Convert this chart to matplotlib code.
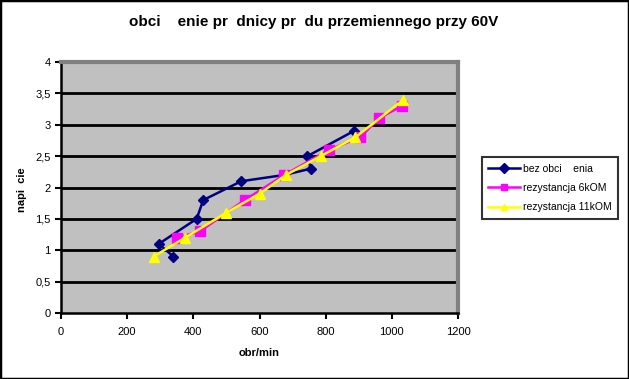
import matplotlib.pyplot as plt
from matplotlib.patches import Rectangle

# bez obciazenia
blue_x = [340, 295, 410, 430, 545, 675, 755, 745, 885]
blue_y = [0.9, 1.1, 1.5, 1.8, 2.1, 2.2, 2.3, 2.5, 2.9]
# rezystancja 6kOM
pink_x = [350, 420, 555, 675, 810, 905, 960, 1030]
pink_y = [1.2, 1.3, 1.8, 2.2, 2.6, 2.8, 3.1, 3.3]
# rezystancja 11kOM
yel_x = [280, 375, 500, 600, 680, 785, 890, 1035]
yel_y = [0.9, 1.2, 1.6, 1.9, 2.2, 2.5, 2.8, 3.4]

x_ticks = [0, 200, 400, 600, 800, 1000, 1200]
y_ticks = [0, 0.5, 1, 1.5, 2, 2.5, 3, 3.5, 4]
y_labels = ["0", "0,5", "1", "1,5", "2", "2,5", "3", "3,5", "4"]

plt.rcParams['font.family'] = ['Liberation Sans', 'DejaVu Sans']

fig = plt.figure(figsize=(6.29, 3.79), dpi=100)
ax = fig.add_axes([61 / 629, 1 - 313 / 379, 397 / 629, 251 / 379])
ax.set_facecolor('#C0C0C0')

for y in y_ticks[1:-1]:
    ax.axhline(y, color='black', lw=2, zorder=1)

ax.plot(blue_x, blue_y, color='#000080', marker='D', markersize=5, lw=1.8,
        label='bez obci    enia', zorder=3)
ax.plot(pink_x, pink_y, color='#FF00FF', marker='s', markersize=6.5, lw=1.8,
        label='rezystancja 6kOM', zorder=4)
ax.plot(yel_x, yel_y, color='#FFFF00', marker='^', markersize=7, lw=1.8,
        label='rezystancja 11kOM', zorder=5)

ax.set_xlim(0, 1200)
ax.set_ylim(0, 4)
ax.set_xticks(x_ticks)
ax.set_yticks(y_ticks)
ax.set_yticklabels(y_labels)
ax.tick_params(axis='both', labelsize=8, length=4, width=1.5, direction='out', colors='black')
ax.tick_params(axis='x', pad=6)

for side in ['left', 'bottom']:
    ax.spines[side].set_color('black')
    ax.spines[side].set_linewidth(1.8)
for side in ['top', 'right']:
    ax.spines[side].set_color('#808080')
    ax.spines[side].set_linewidth(3)

ax.set_xlabel('obr/min', fontsize=8, fontweight='bold', labelpad=8)
fig.text(22 / 629, 1 - 190 / 379, 'napi  cie', rotation=90, ha='center', va='center',
         fontsize=8, fontweight='bold')
fig.text(314 / 629, 1 - 22 / 379, 'obci    enie pr  dnicy pr  du przemiennego przy 60V',
         ha='center', va='center', fontsize=11, fontweight='bold')

leg = fig.legend(loc='center', bbox_to_anchor=(550 / 629, 1 - 188 / 379), fontsize=7.5,
                 frameon=True, fancybox=False, edgecolor='black', borderpad=0.6,
                 handlelength=3, labelspacing=0.9, handletextpad=0.3)
leg.get_frame().set_linewidth(1.5)
for h in leg.legend_handles:
    h.set_markersize(5)

fig.patches.append(Rectangle((0, 0), 1, 1, transform=fig.transFigure, fill=False,
                             edgecolor='black', lw=2.5))

fig.savefig('out.png', dpi=100)
